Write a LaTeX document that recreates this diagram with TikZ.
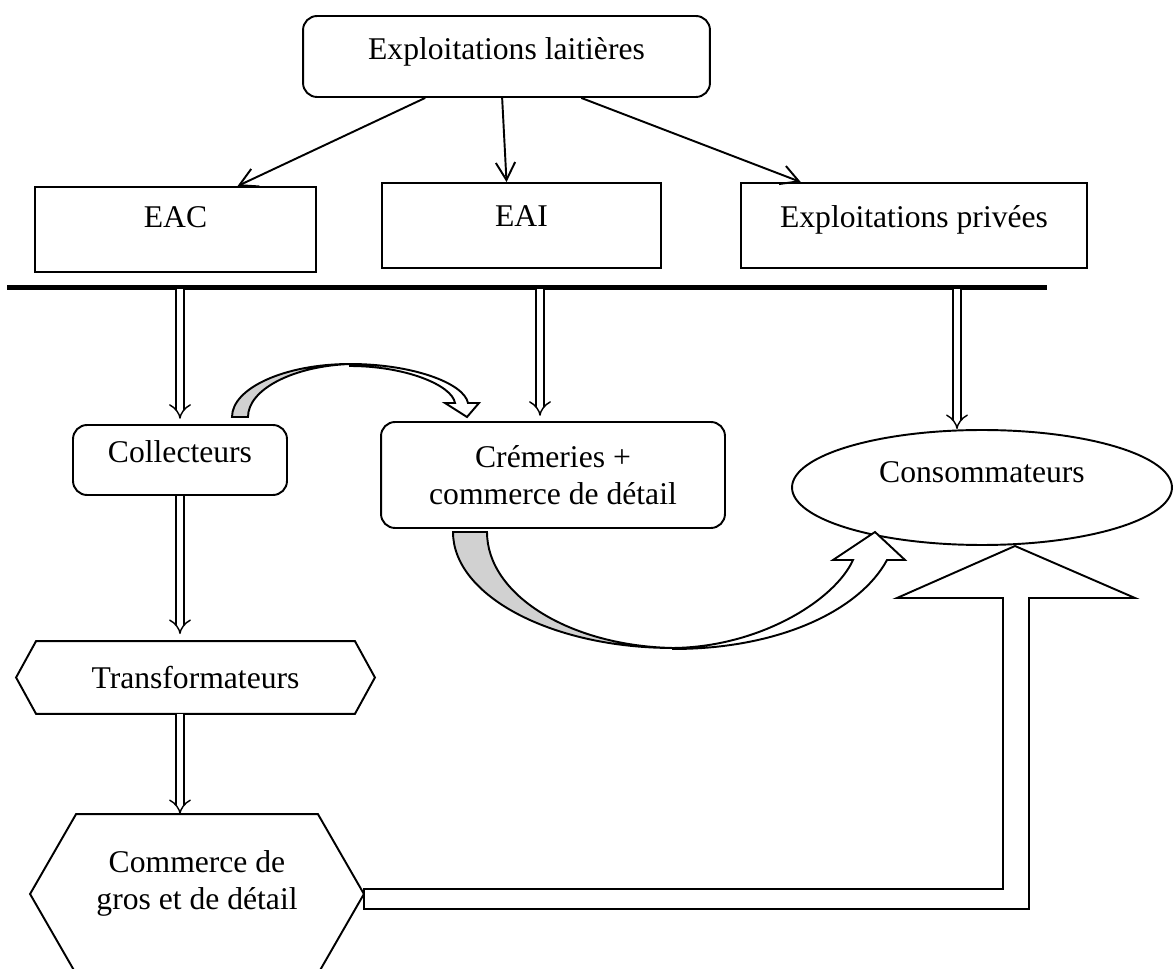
\documentclass[tikz,border=0pt]{standalone}
\usepackage{fontspec}
\setmainfont{Liberation Serif}
\usetikzlibrary{positioning,arrows.meta,shapes.geometric}

\begin{document}
\begin{tikzpicture}[x=0.02cm, y=-0.02cm,
    font=\fontsize{18}{21}\selectfont,
    >={Straight Barb[length=10pt,width=11pt]},
    every node/.style={draw, line width=1.1pt, inner sep=0pt},
    box/.style={rectangle, text height=12.5pt, text depth=#1},
    rbox/.style={box=#1, rounded corners=8pt},
    hexa/.style={rectangle, draw=none, align=center},
    dbl/.style={double, double distance=3.6pt, line width=0.8pt, -{Implies[scale=1.5]}},
    band/.style={line width=1.1pt, line join=miter}]
    \useasboundingbox (0,0) rectangle (1174,969);
    \clip (0,0) rectangle (1174,969);

    % producers
    \node[rbox=8.9pt, minimum width=8.14cm, minimum height=1.62cm] (farms) at (506.5,56.5) {Exploitations laitières};
    \node[box=14.5pt, minimum width=5.62cm, minimum height=1.7cm] (eac) at (175.5,229.5) {EAC};
    \node[box=11.1pt, minimum width=5.58cm, minimum height=1.7cm] (eai) at (521.5,225.5) {EAI};
    \node[box=10.1pt, minimum width=6.92cm, minimum height=1.7cm] (priv) at (914,225.5) {Exploitations privées};

    \draw[->, line width=1.1pt] (farms.207) -- (eac.35);
    \draw[->, line width=1.1pt] (farms.264) -- (eai.109);
    \draw[->, line width=1.1pt] (farms.331) -- (priv.159);

    % separating bar
    \draw[line width=2.9pt] (7,287.5) -- (1047,287.5);
    \coordinate (b1) at (180,289);
    \coordinate (b2) at (540,289);
    \coordinate (b3) at (957,289);

    % downstream actors
    \node[rbox=9.5pt, minimum width=4.28cm, minimum height=1.4cm] (coll) at (180,460) {Collecteurs};
    \node[rounded corners=8pt, align=center, minimum width=6.88cm, minimum height=2.12cm] (cre) at (553,475) {Crémeries +\\commerce de détail};
    \node[ellipse, text height=12.5pt, text depth=18.1pt, minimum width=7.6cm, minimum height=2.3cm] (cons) at (982,487.5) {Consommateurs};
    \node[hexa, minimum width=7.14cm, minimum height=1.42cm] (trans) at (195.5,677.5) {Transformateurs};
    \node[hexa, text height=33.3pt, text depth=15.5pt, minimum width=6.64cm, minimum height=3.16cm] (gros) at (197,894) {Commerce de\\gros et de détail};

    % hexagon outlines
    \draw[line width=1.1pt] ([xshift=11.4pt]trans.north west) -- ([xshift=-11.4pt]trans.north east) -- (trans.east)
        -- ([xshift=-11.4pt]trans.south east) -- ([xshift=11.4pt]trans.south west) -- (trans.west) -- cycle;
    \draw[line width=1.1pt] ([xshift=26.2pt]gros.north west) -- ([xshift=-26.2pt]gros.north east) -- (gros.east)
        -- ([xshift=-26.2pt]gros.south east) -- ([xshift=26.2pt]gros.south west) -- (gros.west) -- cycle;

    \draw[dbl, shorten >=3pt] (b1) -- (b1 |- coll.north);
    \draw[dbl, shorten >=3pt] (b2) -- (b2 |- cre.north);
    \draw[dbl] (b3) -- (b3 |- cons.north);
    \draw[dbl, shorten >=4pt] (b1 |- coll.south) -- (b1 |- trans.north);
    \draw[dbl] (b1 |- trans.south) -- (b1 |- gros.north);

    % curved arrow collecteurs -> cremeries
    \filldraw[band, fill=black!18] (232,417) .. controls (232,388) and (285,364) .. (350,364)
        .. controls (294,366) and (248,389) .. (248,417) -- cycle;
    \draw[band, fill=white] (350,364) .. controls (412,364) and (464,383) .. (468,403)
        -- (479,403) -- (467,417) -- (445,403) -- (455,403)
        .. controls (452,385) and (405,366) .. (350,366) -- cycle;

    % curved arrow cremeries -> consommateurs
    \filldraw[band, fill=black!18] (453,532) .. controls (453,596) and (552,648) .. (673,648)
        .. controls (570,646) and (487,595) .. (487,532) -- cycle;
    \draw[band, fill=white] (673,649) .. controls (780,649) and (860,610) .. (887,560)
        -- (905,560) -- (875,532) -- (833,560) -- (853,560)
        .. controls (835,600) and (760,647) .. (673,648) -- cycle;

    % block arrow commerce -> consommateurs
    \draw[band, fill=white] (364,889) -- (1003,889) -- (1003,598) -- (897,598) -- (1015,546)
        -- (1135,598) -- (1029,598) -- (1029,909) -- (364,909) -- cycle;
\end{tikzpicture}
\end{document}
